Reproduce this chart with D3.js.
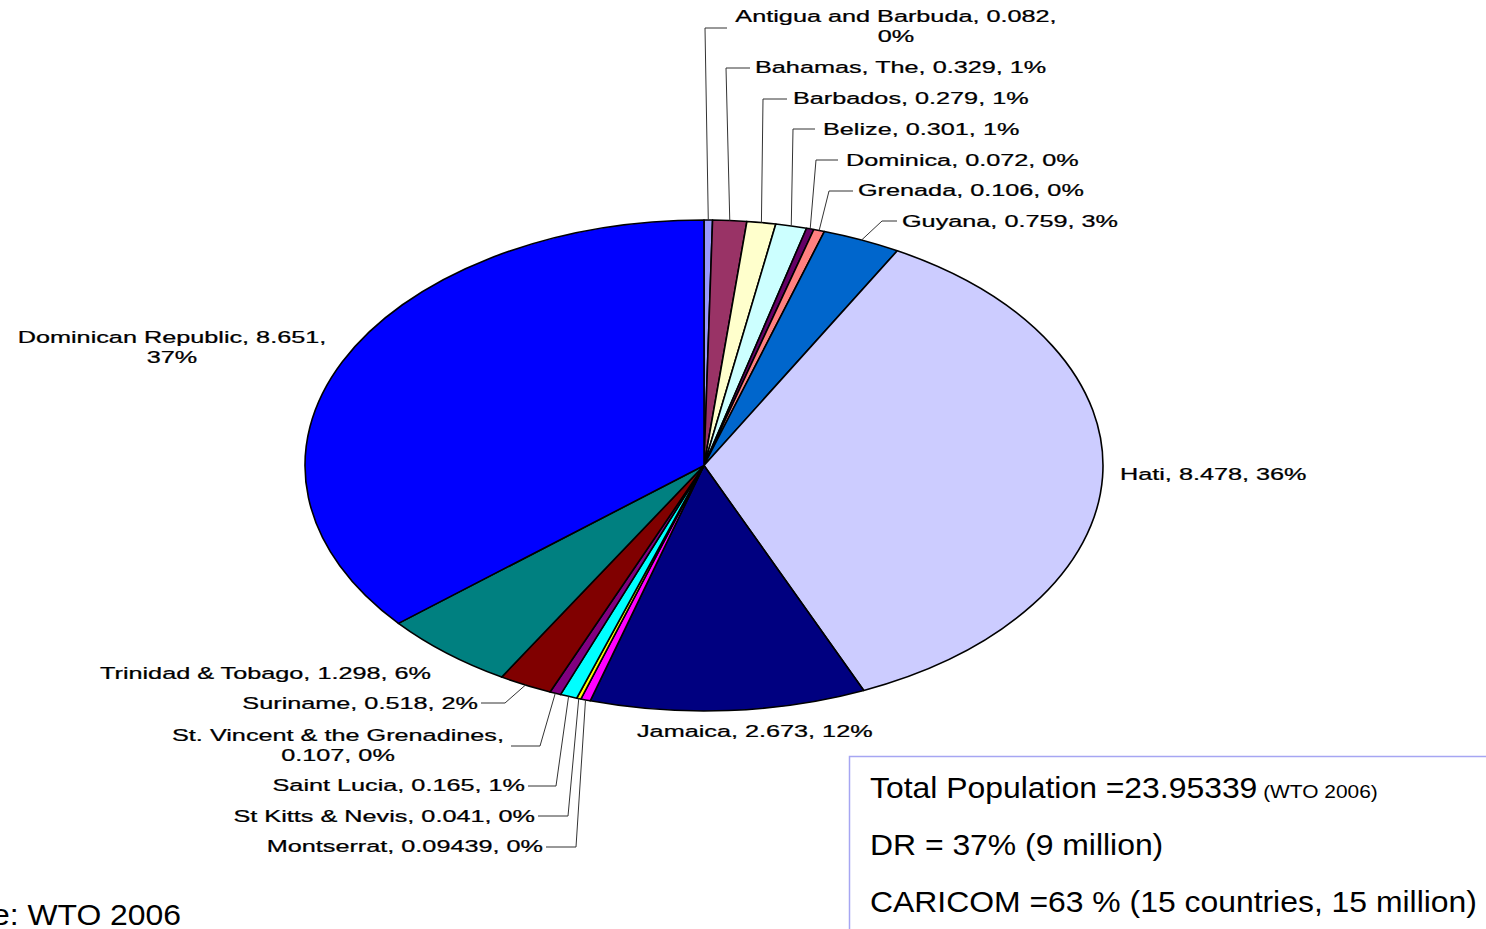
<!DOCTYPE html>
<html>
<head>
<meta charset="utf-8">
<script src="https://cdn.jsdelivr.net/npm/d3@7"></script>
<style>
  html, body { margin: 0; padding: 0; background: #fff; overflow: hidden; }
  svg { display: block; }
  text { font-family: "Liberation Sans", Arial, sans-serif; fill: #000; }
</style>
</head>
<body>
<svg id="chart" width="1486" height="929"></svg>
<script>
// Population by country (millions), clockwise from 12 o'clock
const countries = [
  "Antigua and Barbuda", "Bahamas, The", "Barbados", "Belize", "Dominica",
  "Grenada", "Guyana", "Hati", "Jamaica", "Montserrat", "St Kitts & Nevis",
  "Saint Lucia", "St. Vincent & the Grenadines", "Suriname",
  "Trinidad & Tobago", "Dominican Republic"
];
const populations = [
  0.082, 0.329, 0.279, 0.301, 0.072, 0.106, 0.759, 8.478, 2.673,
  0.09439, 0.041, 0.165, 0.107, 0.518, 1.298, 8.651
];
const percentLabels = [
  "0%", "1%", "1%", "1%", "0%", "0%", "3%", "36%", "12%",
  "0%", "0%", "1%", "0%", "2%", "6%", "37%"
];
const sliceColors = [
  "#9999FF", "#993366", "#FFFFCC", "#CCFFFF", "#660066", "#FF8080",
  "#0066CC", "#CCCCFF", "#000080", "#FF00FF", "#FFFF00", "#00FFFF",
  "#800080", "#800000", "#008080", "#0000FF"
];

const summaryLines = [
  { main: "Total Population =23.95339", note: " (WTO 2006)" },
  { main: "DR = 37% (9 million)", note: "" },
  { main: "CARICOM =63 % (15 countries, 15 million)", note: "" }
];
const sourceNote = "Source: WTO 2006";

// ---- layout ----
const cx = 704, cy = 465.5, rx = 399, ry = 245.5;
const labelFont = 16.5, labelStretch = 1.53, labelLine = 20;

// label anchor [x, first baseline, anchor], wrap = line break after "name" or "value",
// leader [label-side x, y, elbow x] or null
const labelLayout = [
  { x: 896,  y: 22,  anchor: "middle", wrap: "value", leader: [727, 28, 705] },
  { x: 755,  y: 73,  anchor: "start",  wrap: null, leader: [750, 68, 726] },
  { x: 793,  y: 104, anchor: "start",  wrap: null, leader: [787, 99, 763] },
  { x: 823,  y: 135, anchor: "start",  wrap: null, leader: [815, 129, 793] },
  { x: 846,  y: 166, anchor: "start",  wrap: null, leader: [838, 160, 816] },
  { x: 858,  y: 196, anchor: "start",  wrap: null, leader: [853, 191, 829] },
  { x: 902,  y: 227, anchor: "start",  wrap: null, leader: [897, 221, 882] },
  { x: 1120, y: 480, anchor: "start",  wrap: null, leader: null },
  { x: 637,  y: 737, anchor: "start",  wrap: null, leader: null },
  { x: 543,  y: 852, anchor: "end",    wrap: null, leader: [546, 847, 576] },
  { x: 535,  y: 822, anchor: "end",    wrap: null, leader: [538, 816, 568] },
  { x: 525,  y: 791, anchor: "end",    wrap: null, leader: [528, 786, 556] },
  { x: 338,  y: 741, anchor: "middle", wrap: "name", leader: [511, 746, 540] },
  { x: 478,  y: 709, anchor: "end",    wrap: null, leader: [481, 703, 505] },
  { x: 100,  y: 679, anchor: "start",  wrap: null, leader: null },
  { x: 172,  y: 343, anchor: "middle", wrap: "value", leader: null }
];

const svg = d3.select("#chart");

const data = countries.map((name, i) => ({
  name, value: populations[i], pct: percentLabels[i], color: sliceColors[i], layout: labelLayout[i]
}));

const pie = d3.pie().sort(null).value(d => d.value);
const arcs = pie(data);
const arc = d3.arc().innerRadius(0).outerRadius(rx);

// Flattened pie: drawn as a circle of radius rx and squeezed vertically
const pieG = svg.append("g")
  .attr("transform", `translate(${cx},${cy}) scale(1,${ry / rx})`);

pieG.selectAll("path")
  .data(arcs)
  .join("path")
  .attr("d", arc)
  .attr("fill", d => d.data.color)
  .attr("stroke", "#000")
  .attr("stroke-width", 1.6)
  .attr("stroke-linejoin", "round")
  .attr("vector-effect", "non-scaling-stroke");

// Point on the ellipse rim at a pie angle (0 = top, clockwise)
const rim = a => [cx + rx * Math.sin(a), cy - ry * Math.cos(a)];

// Leader lines
const leaderG = svg.append("g");
arcs.forEach(d => {
  const L = d.data.layout.leader;
  if (!L) return;
  const mid = (d.startAngle + d.endAngle) / 2;
  const [ex, ey] = rim(mid);
  leaderG.append("polyline")
    .attr("points", `${L[0]},${L[1]} ${L[2]},${L[1]} ${ex},${ey}`)
    .attr("fill", "none")
    .attr("stroke", "#333")
    .attr("stroke-width", 1);
});

// Data labels "name, value, pct"
const labelG = svg.append("g");
arcs.forEach(d => {
  const { name, value, pct, layout } = d.data;
  let lines;
  if (layout.wrap === "value") lines = [`${name}, ${value},`, pct];
  else if (layout.wrap === "name") lines = [`${name},`, `${value}, ${pct}`];
  else lines = [`${name}, ${value}, ${pct}`];
  const g = labelG.append("g")
    .attr("transform", `translate(${layout.x},${layout.y}) scale(${labelStretch},1)`);
  lines.forEach((t, k) => {
    g.append("text")
      .attr("x", 0)
      .attr("y", k * labelLine)
      .attr("text-anchor", layout.anchor)
      .attr("font-size", labelFont)
      .attr("stroke", "#000")
      .attr("stroke-width", 0.25)
      .text(t);
  });
});

// Summary box
const boxX = 849.5, boxY = 756.5;
svg.append("rect")
  .attr("x", boxX).attr("y", boxY)
  .attr("width", 800).attr("height", 400)
  .attr("fill", "#fff")
  .attr("stroke", "#A6A6F2")
  .attr("stroke-width", 1.5);

const boxFont = 29, boxStretch = 1.1;
summaryLines.forEach((ln, i) => {
  const t = svg.append("text")
    .attr("transform", `translate(870,${798 + i * 57}) scale(${boxStretch},1)`)
    .attr("font-size", boxFont);
  t.append("tspan").text(ln.main);
  if (ln.note) t.append("tspan").attr("font-size", 19).text(ln.note);
});

// Source note (runs off the left edge)
svg.append("text")
  .attr("transform", `translate(181,925) scale(${boxStretch},1)`)
  .attr("text-anchor", "end")
  .attr("font-size", boxFont)
  .text(sourceNote);
</script>
</body>
</html>
